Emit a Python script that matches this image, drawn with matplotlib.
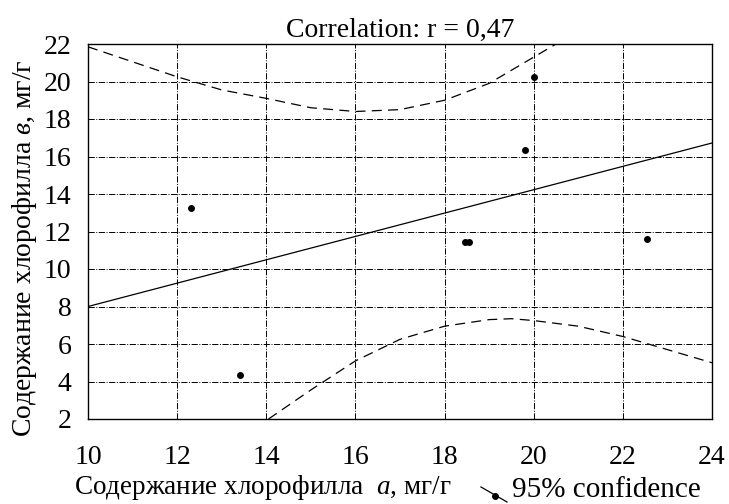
import numpy as np
import matplotlib
matplotlib.use('Agg')
import matplotlib.pyplot as plt
from matplotlib.lines import Line2D

# Данные
chl_a = [12.3, 13.4, 18.45, 18.55, 19.8, 20.0, 22.55]
chl_b = [13.25, 4.35, 11.45, 11.45, 16.35, 20.25, 11.6]

# Линия регрессии
fit_x = [10, 24]
fit_y = [8.0, 16.72]

# 95% доверительные границы
upper_x = [10, 11, 12, 13, 14, 15, 16, 17, 18, 19, 20, 20.5]
upper_y = [21.85, 21.05, 20.25, 19.55, 19.1, 18.6, 18.4, 18.5, 19.0, 19.9, 21.3, 22.0]
lower_x = [14.05, 15, 16, 17, 18, 19, 19.5, 20, 21, 22, 23, 24]
lower_y = [2.0, 3.55, 5.1, 6.25, 6.95, 7.3, 7.35, 7.25, 6.95, 6.4, 5.7, 5.0]

x_ticks = [10, 12, 14, 16, 18, 20, 22, 24]
y_ticks = [2, 4, 6, 8, 10, 12, 14, 16, 18, 20, 22]

plt.rcParams['font.family'] = ['Liberation Serif', 'DejaVu Serif']
plt.rcParams['mathtext.fontset'] = 'custom'
plt.rcParams['mathtext.it'] = 'Liberation Serif:italic'
plt.rcParams['mathtext.rm'] = 'Liberation Serif'

fig = plt.figure(figsize=(7.29, 5.04), dpi=100)
ax = fig.add_axes([88/729, 1 - 419/504, 624/729, 375/504])

# Сетка
ax.grid(True, color='black', linestyle='-.', linewidth=0.7)
ax.set_axisbelow(True)

ax.plot(fit_x, fit_y, color='black', linewidth=0.9)
ax.plot(upper_x, upper_y, color='black', linewidth=0.9, dashes=(8, 5))
ax.plot(lower_x, lower_y, color='black', linewidth=0.9, dashes=(8, 5))
ax.plot(chl_a, chl_b, 'o', color='black', markersize=4)

ax.set_xlim(10, 24)
ax.set_ylim(2, 22)
ax.set_xticks(x_ticks)
ax.set_yticks(y_ticks)
ax.tick_params(axis='both', length=0, labelsize=20)
ax.tick_params(axis='x', pad=19)
ax.tick_params(axis='y', pad=12)
for s in ax.spines.values():
    s.set_color('black')
    s.set_linewidth(1.0)

ax.set_title('Correlation: r = 0,47', fontsize=20, pad=5)

# Подписи осей
fig.text(263/729, 1 - 488/504, 'Содержание хлорофилла  $\\mathit{a}$, мг/г',
         ha='center', va='center', fontsize=19.5)
fig.text(25/729, 1 - 248/504, 'Содержание хлорофилла $\\mathit{в}$, мг/г',
         ha='center', va='center', fontsize=20, rotation=90)

# Легенда
fig.add_artist(Line2D([481/729, 507/729], [1 - 487/504, 1 - 502/504],
                      transform=fig.transFigure, color='black', linewidth=0.9))
fig.add_artist(Line2D([495/729], [1 - 496/504], transform=fig.transFigure,
                      marker='o', color='black', markersize=4))
fig.text(512/729, 1 - 490/504, '95% confidence', ha='left', va='center', fontsize=21)

fig.savefig('out.png', dpi=100)
